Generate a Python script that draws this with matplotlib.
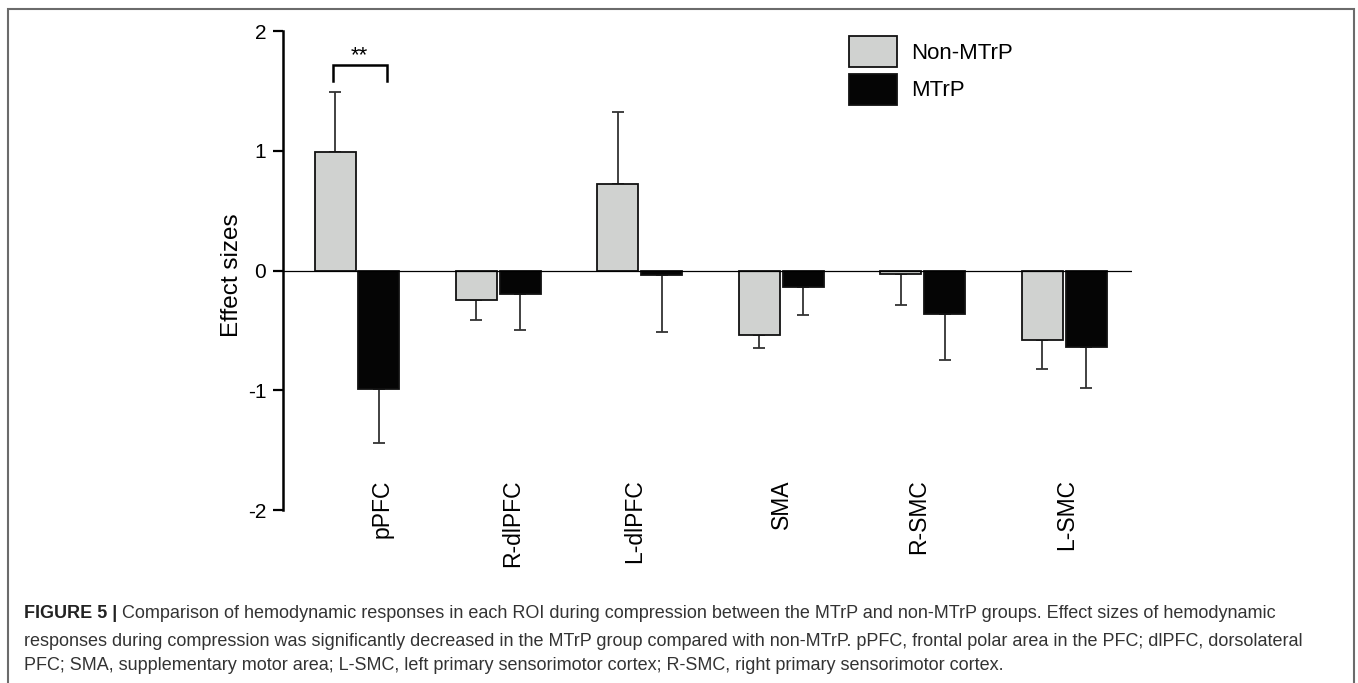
import matplotlib
matplotlib.use('Agg')
import matplotlib.pyplot as plt
from matplotlib.patches import Rectangle
import numpy as np

plt.rcParams['font.family'] = ['Liberation Sans', 'DejaVu Sans']

rois       = ['pPFC', 'R-dlPFC', 'L-dlPFC', 'SMA', 'R-SMC', 'L-SMC']
groups     = ['Non-MTrP', 'MTrP']
non_mtrp   = [0.99, -0.245, 0.72, -0.54, -0.03, -0.58]
non_err    = [0.50, 0.165, 0.60, 0.11, 0.26, 0.24]
mtrp       = [-0.99, -0.20, -0.04, -0.135, -0.36, -0.64]
mtrp_err   = [0.45, 0.30, 0.47, 0.235, 0.39, 0.34]
yticks     = [-2, -1, 0, 1, 2]

# small horizontal nudges of the category labels (in group units), as in the source figure
label_shift = [0.18, 0.10, -0.04, 0.0, -0.03, 0.02]

colors = ['#d0d2d0', '#050505']

fig = plt.figure(figsize=(13.58, 6.83), dpi=100)
ax = fig.add_axes([283/1358, 173/683, 849/1358, 479/683])

x = np.arange(len(rois))
bw = 0.29
off = 0.155

def one_sided(vals, errs):
    vals = np.array(vals)
    errs = np.array(errs)
    lower = np.where(vals < 0, errs, 0)
    upper = np.where(vals >= 0, errs, 0)
    return [lower, upper]

for i, (vals, errs) in enumerate([(non_mtrp, non_err), (mtrp, mtrp_err)]):
    xs = x + (i * 2 - 1) * off
    ax.bar(xs, vals, width=bw, color=colors[i], edgecolor='#111111',
           linewidth=1.3, label=groups[i], zorder=2)
    ax.errorbar(xs, vals, yerr=one_sided(vals, errs), fmt='none',
                ecolor='#333333', elinewidth=1.3, capsize=4, capthick=1.3, zorder=1)

ax.axhline(0, color='black', linewidth=0.9, zorder=3)

# significance bracket over pPFC
bx0, bx1 = x[0] - 0.17, x[0] + 0.21
ax.plot([bx0, bx0, bx1, bx1], [1.58, 1.72, 1.72, 1.58], color='black', lw=1.8,
        solid_joinstyle='miter', clip_on=False)
ax.text((bx0 + bx1) / 2, 1.79, '**', ha='center', va='center', fontsize=16)

ax.set_xlim(-0.523, 5.48)
ax.set_ylim(-2, 2)
ax.set_yticks(yticks)
ax.set_yticklabels([str(t) for t in yticks], fontsize=15)
ax.tick_params(axis='y', length=7, width=1.6, pad=5, direction='out')
ax.set_xticks([])
for s in ['top', 'right', 'bottom']:
    ax.spines[s].set_visible(False)
ax.spines['left'].set_linewidth(1.8)

ax.set_ylabel('Effect sizes', fontsize=17.5)
ax.yaxis.set_label_coords(-0.047, 0.49)

for i, name in enumerate(rois):
    ax.text(x[i] + label_shift[i], -1.745, name, rotation=90, ha='center', va='top',
            fontsize=16.5)

ax.legend(loc='upper left', bbox_to_anchor=(849/1358, 647/683),
          bbox_transform=fig.transFigure, frameon=False, fontsize=16,
          handlelength=2.16, handleheight=1.77, labelspacing=0.3,
          handletextpad=0.63, borderpad=0, borderaxespad=0)

# caption frame and text
fig.patches.append(Rectangle((8/1358, -0.05), 1346/1358, (674/683) + 0.05,
                             transform=fig.transFigure, fill=False,
                             edgecolor='#6b6b6b', linewidth=1.5))

cap_lines = [
    ' Comparison of hemodynamic responses in each ROI during compression between the MTrP and non-MTrP groups. Effect sizes of hemodynamic',
    'responses during compression was significantly decreased in the MTrP group compared with non-MTrP. pPFC, frontal polar area in the PFC; dlPFC, dorsolateral',
    'PFC; SMA, supplementary motor area; L-SMC, left primary sensorimotor cortex; R-SMC, right primary sensorimotor cortex.',
]
cap_x = 24/1358
cap_y = [(683-614)/683, (683-641)/683, (683-666)/683]
bold = fig.text(cap_x, cap_y[0], 'FIGURE 5 |', fontsize=13, fontweight='bold',
                color='#222222', va='center')
fig.canvas.draw()
bb = bold.get_window_extent(renderer=fig.canvas.get_renderer())
fig.text(bb.x1 / fig.bbox.width, cap_y[0], cap_lines[0], fontsize=13,
         color='#333333', va='center')
for line, yy in zip(cap_lines[1:], cap_y[1:]):
    fig.text(cap_x, yy, line, fontsize=13, color='#333333', va='center')

plt.savefig('out.png', dpi=100)
